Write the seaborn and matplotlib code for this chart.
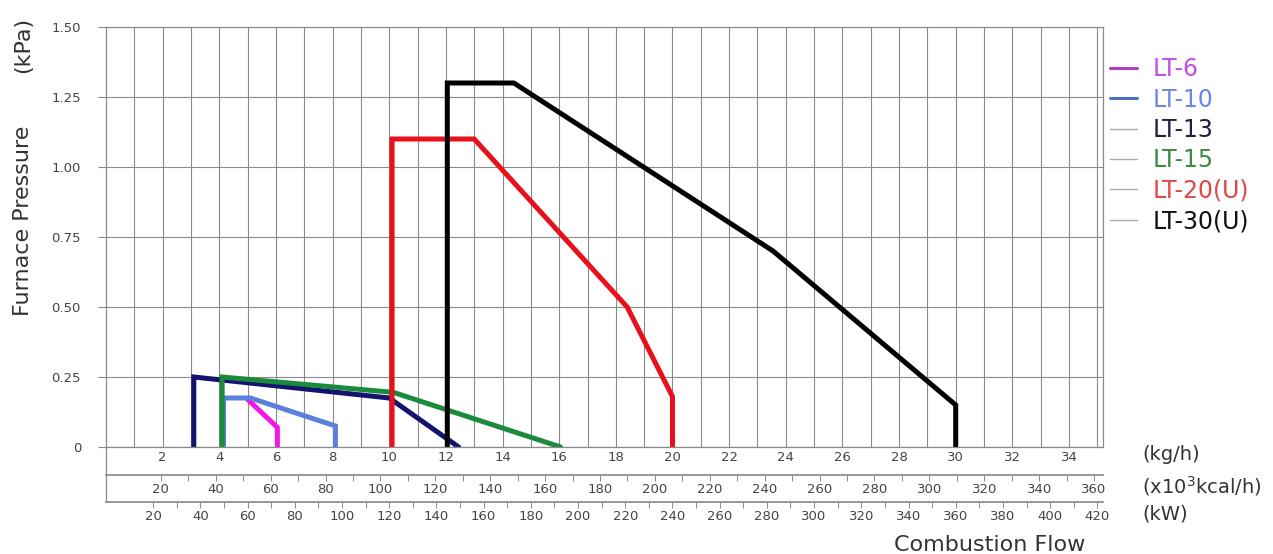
import numpy as np
import pandas as pd
import matplotlib
matplotlib.use("Agg")
import matplotlib.pyplot as plt
from matplotlib.ticker import FixedLocator
from matplotlib.lines import Line2D
import seaborn as sns

# ---- data (x: kg/h, y: kPa) ----
lt6_x = [5.0, 6.05, 6.05]
lt6_y = [0.17, 0.07, 0.0]
lt10_x = [4.15, 4.15, 5.1, 8.1, 8.1]
lt10_y = [0.0, 0.175, 0.175, 0.075, 0.0]
lt13_x = [3.1, 3.1, 10.0, 12.45]
lt13_y = [0.0, 0.25, 0.175, 0.0]
lt15_x = [4.1, 4.1, 10.15, 16.05]
lt15_y = [0.0, 0.25, 0.195, 0.0]
lt20_x = [10.1, 10.1, 13.0, 18.4, 20.0, 20.0]
lt20_y = [0.0, 1.10, 1.10, 0.50, 0.18, 0.0]
lt30_x = [12.05, 12.05, 14.4, 23.55, 30.0, 30.0]
lt30_y = [0.0, 1.30, 1.30, 0.70, 0.15, 0.0]

series_names = ["LT-6", "LT-10", "LT-13", "LT-15", "LT-20(U)", "LT-30(U)"]
series_x = [lt6_x, lt10_x, lt13_x, lt15_x, lt20_x, lt30_x]
series_y = [lt6_y, lt10_y, lt13_y, lt15_y, lt20_y, lt30_y]
line_colors = ["#f414e6", "#5b80dc", "#14146e", "#1b8a3c", "#e8101a", "#000000"]
label_colors = ["#c050e8", "#6a88e0", "#202040", "#3a8a44", "#e04848", "#111111"]

kg_ticks = list(range(2, 35, 2))
kcal_ticks = list(range(20, 361, 20))
kw_ticks = list(range(20, 421, 20))
y_ticks = [0, 0.25, 0.5, 0.75, 1.0, 1.25, 1.5]
y_labels = ["0", "0.25", "0.50", "0.75", "1.00", "1.25", "1.50"]

KCAL_PER_KG = 10.32
KW_PER_KG = 12.0

rows = []
for name, xs, ys in zip(series_names, series_x, series_y):
    for i, (xv, yv) in enumerate(zip(xs, ys)):
        rows.append({"series": name, "x": xv, "y": yv, "order": i})
df = pd.DataFrame(rows)

sns.set_theme(style="white")
plt.rcParams["font.family"] = ["DejaVu Sans"]

fig = plt.figure(figsize=(12.73, 5.54), dpi=100)
ax = fig.add_axes([106 / 1273, 1 - 447 / 554, 997 / 1273, 420 / 554])

grid_c = "#8a8a8a"
txt_c = "#444444"
ax.set_xlim(0, 35.2)
ax.set_ylim(0, 1.5)
ax.xaxis.set_major_locator(FixedLocator(kg_ticks))
ax.xaxis.set_minor_locator(FixedLocator(list(range(1, 36))))
ax.set_yticks(y_ticks)
ax.set_yticklabels(y_labels)
ax.grid(True, which="both", color=grid_c, linewidth=0.8)
ax.set_axisbelow(True)

sns.lineplot(data=df, x="x", y="y", hue="series", hue_order=series_names,
             palette=dict(zip(series_names, line_colors)), sort=False,
             estimator=None, units="series", linewidth=3.6, legend=False, ax=ax,
             solid_joinstyle="miter")

for sp in ax.spines.values():
    sp.set_color(grid_c)
    sp.set_linewidth(0.9)

ax.tick_params(axis="x", which="both", length=0, pad=3, labelsize=9.5, labelcolor=txt_c)
ax.tick_params(axis="y", which="major", length=6, width=0.8, color=grid_c, direction="out",
               pad=12, labelsize=9.5, labelcolor=txt_c, left=True)
ax.set_xlabel("")
ax.set_ylabel("")

# secondary axes rows
sec1 = ax.secondary_xaxis(-0.0667, functions=(lambda k: k * KCAL_PER_KG, lambda c: c / KCAL_PER_KG))
sec1.xaxis.set_major_locator(FixedLocator(kcal_ticks))
sec1.xaxis.set_minor_locator(FixedLocator(list(range(30, 360, 20))))
sec1.tick_params(which="major", length=4, width=0.7, color=grid_c, direction="out",
                 pad=2, labelsize=9.5, labelcolor=txt_c)
sec1.tick_params(which="minor", length=4, width=0.7, color=grid_c, direction="out")
sec1.spines["bottom"].set_color(grid_c)

sec2 = ax.secondary_xaxis(-0.131, functions=(lambda k: k * KW_PER_KG, lambda w: w / KW_PER_KG))
sec2.xaxis.set_major_locator(FixedLocator(kw_ticks))
sec2.xaxis.set_minor_locator(FixedLocator(list(range(30, 420, 20))))
sec2.tick_params(which="major", length=4, width=0.7, color=grid_c, direction="out",
                 pad=2, labelsize=9.5, labelcolor=txt_c)
sec2.tick_params(which="minor", length=4, width=0.7, color=grid_c, direction="out")
sec2.spines["bottom"].set_color(grid_c)

# left spine extended down through the rows
ax.plot([0, 0], [0, -0.131], transform=ax.transAxes, clip_on=False, color=grid_c, linewidth=0.9)

# axis titles
fig.text(23 / 1273, 1 - 221 / 554, "Furnace Pressure", rotation=90,
         ha="center", va="center", fontsize=16, color="#333333")
fig.text(23 / 1273, 1 - 45 / 554, "(kPa)", rotation=90,
         ha="center", va="center", fontsize=16, color="#333333")
fig.text(1085 / 1273, 1 - 545 / 554, "Combustion Flow", ha="right", va="center",
         fontsize=16, color="#333333")
fig.text(1142 / 1273, 1 - 455 / 554, "(kg/h)", ha="left", va="center", fontsize=14, color="#333333")
fig.text(1142 / 1273, 1 - 486 / 554, r"(x10$^{3}$kcal/h)", ha="left", va="center",
         fontsize=14, color="#333333")
fig.text(1142 / 1273, 1 - 514 / 554, "(kW)", ha="left", va="center", fontsize=14, color="#333333")

# legend
handle_colors = ["#b040c0", "#5070c0", "#aaaaaa", "#aaaaaa", "#aaaaaa", "#aaaaaa"]
handle_lw = [2.2, 2.2, 1.0, 1.0, 1.0, 1.0]
handles = [Line2D([0], [0], color=c, lw=w) for c, w in zip(handle_colors, handle_lw)]
leg = fig.legend(handles, series_names, loc="upper left",
                 bbox_to_anchor=(1089 / 1273, 1 - 36 / 554), frameon=False,
                 fontsize=17, handlelength=1.15, handletextpad=0.64, labelspacing=0.27,
                 labelcolor=label_colors)

fig.savefig("out.png", dpi=100)
